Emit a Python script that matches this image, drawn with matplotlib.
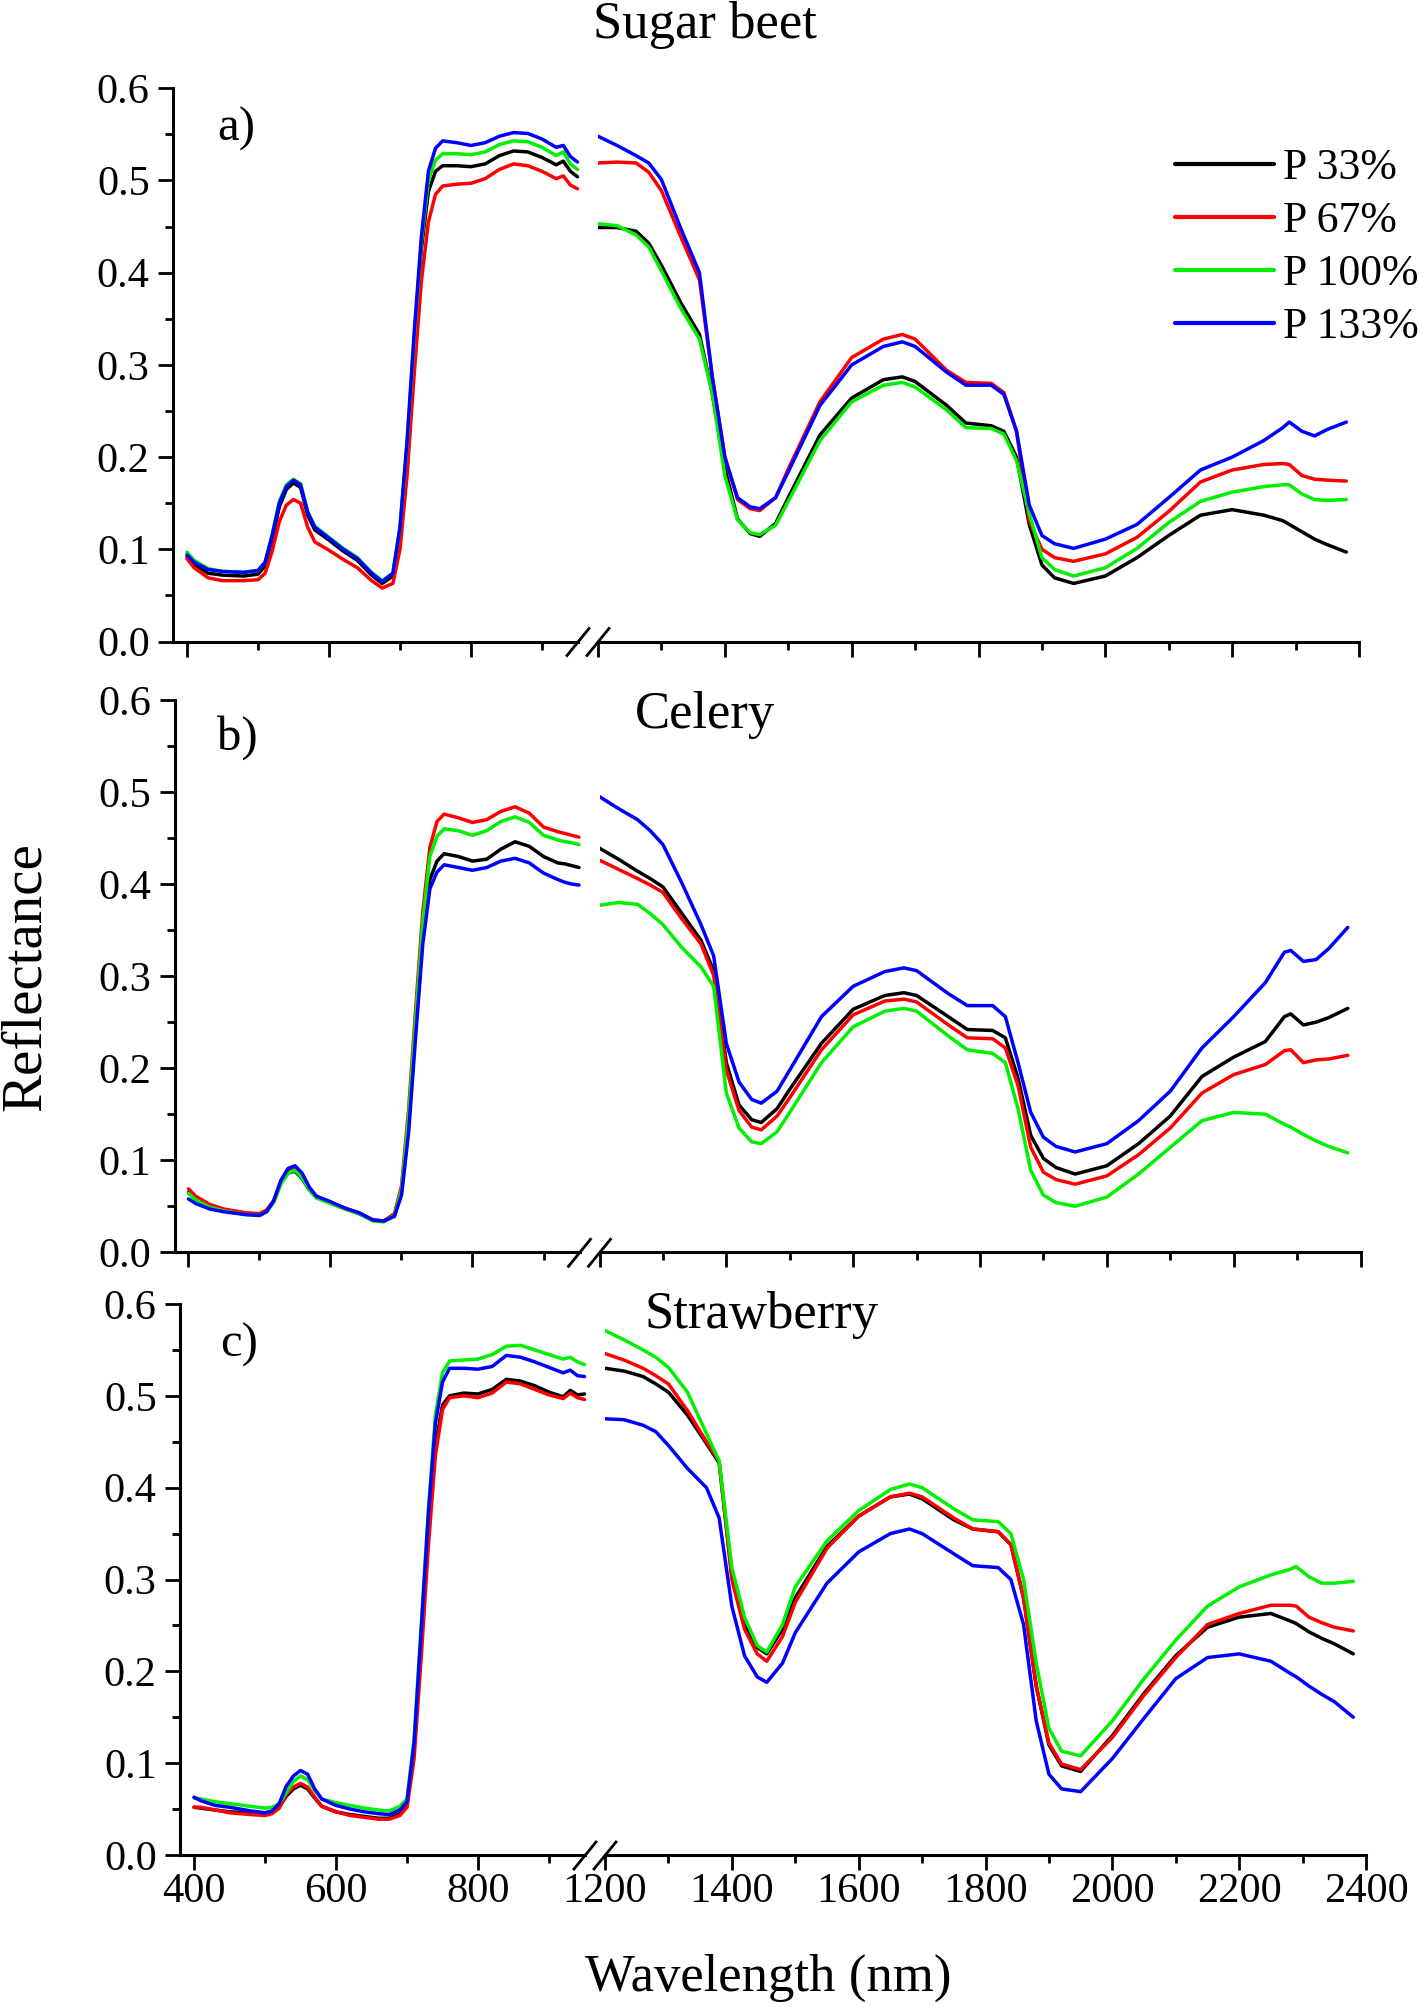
#!/usr/bin/env python3
"""Reflectance spectra of sugar beet, celery and strawberry under four P rates."""

import matplotlib
matplotlib.use("Agg")
import matplotlib.pyplot as plt
from matplotlib.lines import Line2D
from matplotlib.ticker import MultipleLocator, FormatStrFormatter

plt.rcParams["font.family"] = ["Liberation Serif", "DejaVu Serif"]

# ---- data --------------------------------------------------------------
WL_VIS = [400, 410, 430, 450, 480, 500, 510, 520, 530, 540, 550, 560, 570, 580,
          600, 620, 640, 660, 675, 690, 700, 710, 720, 730, 740, 750, 760, 780,
          800, 820, 840, 860, 880, 900, 920, 930, 940, 950]
WL_SWIR = [1200, 1230, 1260, 1280, 1300, 1330, 1360, 1380, 1400, 1420, 1440,
           1455, 1480, 1500, 1550, 1600, 1650, 1680, 1700, 1750, 1780, 1820,
           1840, 1860, 1880, 1900, 1920, 1950, 2000, 2050, 2100, 2150, 2200,
           2250, 2280, 2290, 2310, 2330, 2350, 2380]

SERIES = ["P 33%", "P 67%", "P 100%", "P 133%"]
COLORS = ["black", "#ff0000", "#00f000", "#0000ff"]
CROPS = ["Sugar beet", "Celery", "Strawberry"]
PANEL_TAGS = ["a)", "b)", "c)"]

# Sugar beet
beet_p33_vis = [.092, .084, .074, .072, .071, .073, .082, .111, .146, .165, .172, .167, .137, .121,
                .110, .098, .088, .072, .063, .071, .120, .210, .325, .425, .488, .510, .516, .516,
                .515, .518, .527, .532, .531, .525, .517, .521, .510, .504]
beet_p67_vis = [.090, .080, .069, .066, .066, .067, .074, .098, .130, .148, .154, .150, .124, .108,
                .099, .089, .080, .066, .058, .063, .100, .180, .290, .390, .455, .485, .494, .496,
                .497, .502, .512, .518, .516, .510, .502, .505, .495, .491]
beet_p100_vis = [.097, .088, .079, .076, .075, .077, .086, .116, .152, .170, .176, .171, .141, .125,
                 .113, .101, .091, .075, .066, .074, .124, .215, .330, .432, .500, .522, .529, .529,
                 .528, .531, .539, .543, .542, .536, .527, .531, .518, .512]
beet_p133_vis = [.094, .086, .078, .076, .075, .077, .086, .115, .150, .168, .175, .170, .140, .124,
                 .112, .100, .090, .074, .065, .074, .124, .218, .335, .438, .510, .535, .543, .541,
                 .538, .541, .548, .552, .551, .545, .536, .538, .526, .520]
beet_p33_swir = [.449, .449, .445, .432, .408, .368, .333, .270, .188, .133, .117, .114, .128, .156,
                 .224, .264, .284, .287, .282, .256, .237, .234, .228, .200, .127, .083, .069, .063,
                 .071, .091, .115, .137, .143, .137, .131, .127, .119, .111, .105, .097]
beet_p67_swir = [.519, .520, .519, .509, .489, .440, .392, .288, .200, .154, .144, .142, .156, .187,
                 .260, .308, .328, .333, .328, .294, .281, .280, .270, .228, .131, .100, .091, .087,
                 .095, .113, .141, .173, .186, .192, .193, .192, .180, .176, .175, .174]
beet_p100_swir = [.453, .451, .441, .428, .402, .362, .328, .270, .180, .132, .118, .116, .126, .152,
                  .218, .260, .278, .281, .276, .251, .232, .231, .225, .196, .139, .091, .078, .071,
                  .080, .101, .129, .152, .162, .168, .170, .170, .160, .154, .153, .154]
beet_p133_swir = [.548, .538, .527, .519, .501, .449, .400, .288, .200, .156, .146, .144, .156, .184,
                  .256, .300, .320, .325, .320, .292, .278, .278, .268, .228, .148, .115, .106, .101,
                  .111, .127, .156, .186, .200, .218, .232, .238, .228, .223, .230, .238]

# Celery
celery_p33_vis = [.065, .058, .050, .046, .042, .041, .045, .055, .075, .086, .088, .080, .068, .060,
                  .054, .048, .042, .035, .034, .040, .065, .140, .245, .345, .405, .425, .433, .430,
                  .425, .427, .438, .446, .441, .430, .423, .422, .420, .418]
celery_p67_vis = [.069, .061, .052, .047, .043, .042, .046, .056, .076, .088, .090, .082, .069, .061,
                  .054, .048, .043, .035, .034, .042, .072, .155, .265, .370, .440, .468, .476, .472,
                  .467, .470, .479, .484, .477, .462, .457, .455, .453, .451]
celery_p100_vis = [.064, .057, .049, .045, .041, .040, .044, .054, .074, .086, .089, .081, .068, .059,
                   .053, .047, .042, .034, .033, .040, .068, .148, .255, .360, .430, .452, .460, .458,
                   .453, .458, .468, .473, .467, .453, .448, .446, .445, .443]
celery_p133_vis = [.058, .053, .047, .044, .041, .040, .044, .056, .078, .091, .094, .086, .071, .061,
                   .055, .048, .043, .035, .034, .039, .062, .130, .235, .335, .395, .413, .421, .418,
                   .415, .418, .425, .428, .423, .412, .405, .402, .400, .399]
celery_p33_swir = [.439, .427, .414, .406, .397, .368, .339, .306, .206, .160, .144, .141, .156, .177,
                   .227, .264, .279, .282, .279, .256, .242, .241, .233, .189, .127, .102, .092, .085,
                   .094, .118, .148, .191, .212, .229, .256, .259, .247, .250, .255, .265]
celery_p67_swir = [.426, .416, .406, .399, .391, .362, .335, .301, .198, .154, .136, .133, .148, .168,
                   .220, .258, .273, .275, .272, .247, .233, .232, .222, .181, .114, .087, .079, .074,
                   .083, .106, .135, .173, .193, .204, .219, .220, .206, .209, .210, .214]
celery_p100_swir = [.377, .380, .378, .368, .356, .331, .310, .289, .173, .135, .120, .118, .131, .152,
                    .206, .245, .262, .265, .262, .235, .220, .216, .206, .156, .089, .062, .054, .050,
                    .060, .085, .114, .143, .152, .150, .139, .136, .128, .121, .115, .108]
celery_p133_swir = [.495, .482, .470, .458, .443, .401, .356, .322, .227, .185, .166, .162, .175, .198,
                    .256, .289, .305, .309, .306, .281, .268, .268, .256, .206, .152, .125, .115, .109,
                    .118, .143, .175, .222, .256, .293, .326, .328, .316, .318, .330, .353]

# Strawberry
straw_p33_vis = [.052, .051, .049, .047, .046, .045, .046, .052, .064, .072, .076, .072, .062, .053,
                 .047, .044, .042, .040, .040, .045, .055, .115, .230, .350, .445, .490, .500, .503,
                 .502, .507, .518, .516, .511, .504, .499, .506, .501, .502]
straw_p67_vis = [.052, .052, .049, .046, .044, .043, .045, .051, .066, .074, .078, .074, .063, .053,
                 .047, .043, .041, .039, .039, .043, .052, .105, .215, .335, .435, .485, .498, .500,
                 .498, .503, .515, .513, .507, .501, .497, .503, .498, .496]
straw_p100_vis = [.062, .061, .058, .056, .053, .051, .052, .056, .068, .080, .086, .082, .070, .061,
                  .057, .054, .051, .049, .048, .053, .061, .126, .250, .375, .479, .525, .538, .539,
                  .540, .545, .554, .555, .550, .545, .540, .542, .537, .534]
straw_p133_vis = [.063, .059, .054, .052, .048, .046, .048, .056, .075, .086, .092, .088, .072, .061,
                  .054, .050, .047, .045, .044, .049, .058, .122, .245, .370, .470, .515, .530, .530,
                  .529, .532, .544, .542, .537, .531, .525, .528, .522, .521]
straw_p33_swir = [.530, .527, .521, .513, .504, .479, .448, .427, .305, .250, .226, .219, .246, .280,
                  .336, .369, .390, .393, .388, .365, .355, .352, .338, .280, .184, .120, .097, .091,
                  .130, .176, .217, .248, .259, .263, .255, .252, .243, .236, .230, .219]
straw_p67_swir = [.546, .539, .530, .522, .513, .484, .450, .429, .300, .246, .219, .211, .238, .275,
                  .334, .369, .390, .394, .390, .367, .355, .352, .338, .280, .184, .122, .099, .093,
                  .128, .174, .215, .251, .263, .272, .272, .271, .259, .253, .248, .244]
straw_p100_swir = [.571, .561, .550, .542, .531, .504, .459, .429, .313, .259, .228, .221, .251, .292,
                   .342, .375, .398, .404, .400, .377, .365, .363, .350, .300, .209, .138, .113, .108,
                   .146, .192, .234, .271, .292, .305, .311, .314, .303, .296, .296, .298]
straw_p133_swir = [.475, .474, .468, .461, .446, .421, .400, .367, .271, .217, .194, .188, .209, .242,
                   .296, .330, .350, .355, .350, .328, .315, .313, .300, .251, .146, .088, .072, .069,
                   .105, .149, .192, .215, .219, .211, .198, .194, .184, .175, .167, .150]

VIS = [
    [beet_p33_vis, beet_p67_vis, beet_p100_vis, beet_p133_vis],
    [celery_p33_vis, celery_p67_vis, celery_p100_vis, celery_p133_vis],
    [straw_p33_vis, straw_p67_vis, straw_p100_vis, straw_p133_vis],
]
SWIR = [
    [beet_p33_swir, beet_p67_swir, beet_p100_swir, beet_p133_swir],
    [celery_p33_swir, celery_p67_swir, celery_p100_swir, celery_p133_swir],
    [straw_p33_swir, straw_p67_swir, straw_p100_swir, straw_p133_swir],
]

# ---- layout (pixels of the 1418 x 2007 canvas) --------------------------
W, H = 1418, 2007
# (top of 0.6, bottom at 0.0, x shift) for each panel
PANEL_POS = [(88.3, 641.5, 0.0), (700.0, 1252.3, 1.5), (1304.0, 1855.0, 7.0)]
TITLE_POS = [(705, 38), (705, 728), (762, 1328)]
TAG_POS = [(236, 129), (237, 738), (239, 1345)]

TICK_FS = 30.5
LINE_W = 2.5


def rect(x0, x1, ytop, ybot):
    return [x0 / W, 1 - ybot / H, (x1 - x0) / W, (ybot - ytop) / H]


def style_axis(ax, show_xlabels):
    ax.set_ylim(0, 0.6)
    ax.patch.set_alpha(0)
    for side in ("top", "right"):
        ax.spines[side].set_visible(False)
    for side in ("left", "bottom"):
        ax.spines[side].set_linewidth(2.2)
    ax.xaxis.set_major_locator(MultipleLocator(200))
    ax.xaxis.set_minor_locator(MultipleLocator(100))
    ax.tick_params(axis="x", which="major", direction="out", length=10.8, width=2.0,
                   pad=2, labelsize=TICK_FS, labelbottom=show_xlabels)
    ax.tick_params(axis="x", which="minor", direction="out", length=5.8, width=2.0)


fig = plt.figure(figsize=(W / 100, H / 100), dpi=100)

for i, (top, bot, s) in enumerate(PANEL_POS):
    ax_l = fig.add_axes(rect(173 + s, 578 + s, top, bot))
    ax_r = fig.add_axes(rect(598 + s, 1359 + s, top, bot))
    last = i == len(PANEL_POS) - 1

    for ax in (ax_l, ax_r):
        style_axis(ax, last)
    ax_l.set_xlim(380.3, 950.7)
    ax_r.set_xlim(1200, 2400)

    ax_l.yaxis.set_major_locator(MultipleLocator(0.1))
    ax_l.yaxis.set_minor_locator(MultipleLocator(0.05))
    ax_l.yaxis.set_major_formatter(FormatStrFormatter("%.1f"))
    ax_l.tick_params(axis="y", which="major", direction="out", length=10.8, width=2.0,
                     pad=6, labelsize=TICK_FS)
    ax_l.tick_params(axis="y", which="minor", direction="out", length=5.8, width=2.0)

    ax_r.spines["left"].set_visible(False)
    ax_r.tick_params(axis="y", which="both", left=False, labelleft=False)

    for k, name in enumerate(SERIES):
        ax_l.plot(WL_VIS, VIS[i][k], color=COLORS[k], lw=LINE_W, clip_on=False,
                  solid_joinstyle="round", solid_capstyle="round")
        ax_r.plot(WL_SWIR, SWIR[i][k], color=COLORS[k], lw=LINE_W, label=name,
                  solid_joinstyle="round", solid_capstyle="round")

    # axis break marks
    for cx in (578 + s, 598 + s):
        fig.add_artist(Line2D([(cx - 11) / W, (cx + 11) / W],
                              [1 - (bot + 14) / H, 1 - (bot - 13) / H],
                              transform=fig.transFigure, color="black", lw=2.0))

    tx, ty = TITLE_POS[i]
    fig.text(tx / W, 1 - ty / H, CROPS[i], fontsize=38, ha="center", va="baseline")
    gx, gy = TAG_POS[i]
    fig.text(gx / W, 1 - gy / H, PANEL_TAGS[i], fontsize=35, ha="center", va="center")

    if i == 0:
        leg = ax_r.legend(loc="upper left", bbox_to_anchor=(1175 / W, 1 - 148 / H),
                          bbox_transform=fig.transFigure, frameon=False, fontsize=31.5,
                          handlelength=2.26, handletextpad=0.2, labelspacing=0.3,
                          borderpad=0, borderaxespad=0)
        for h in leg.get_lines():
            h.set_linewidth(3.0)

fig.text(26 / W, 1 - 977 / H, "Reflectance", fontsize=41, rotation=90,
         ha="center", va="center")
fig.text(768 / W, 1 - 1978 / H, "Wavelength (nm)", fontsize=38,
         ha="center", va="center")

fig.savefig("out.png", dpi=100)
